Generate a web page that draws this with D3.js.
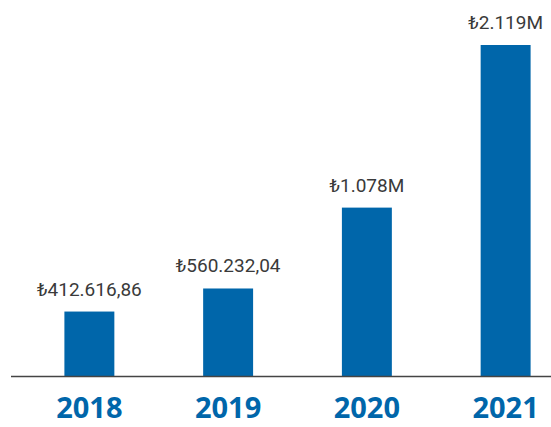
<!DOCTYPE html>
<html>
<head>
<meta charset="utf-8">
<script src="https://cdn.jsdelivr.net/npm/d3@7"></script>
<style>
  html, body { margin: 0; padding: 0; background: #ffffff; }
  svg { display: block; }
</style>
</head>
<body>
<svg id="chart" width="551" height="427"></svg>
<script>
const years = ["2018", "2019", "2020", "2021"];
const values = [412616.86, 560232.04, 1078000, 2119000];
const valueLabels = ["₺412.616,86", "₺560.232,04", "₺1.078M", "₺2.119M"];

const svg = d3.select("#chart");
const W = 551, H = 427;
const baseY = 376;

const x = d3.scaleBand()
  .domain(years)
  .range([20, 575])
  .paddingInner(0.64)
  .paddingOuter(0.32);

const y = d3.scaleLinear()
  .domain([0, d3.max(values)])
  .range([baseY, 45]);

const data = years.map((yr, i) => ({ year: yr, value: values[i], label: valueLabels[i] }));

svg.selectAll("rect.bar")
  .data(data)
  .join("rect")
  .attr("class", "bar")
  .attr("x", d => x(d.year))
  .attr("width", x.bandwidth())
  .attr("y", d => y(d.value))
  .attr("height", d => baseY - y(d.value))
  .attr("fill", "#0066aa");

svg.append("line")
  .attr("x1", 11).attr("x2", W)
  .attr("y1", baseY + 0.5).attr("y2", baseY + 0.5)
  .attr("stroke", "#444444")
  .attr("stroke-width", 1.3);

svg.selectAll("text.val")
  .data(data)
  .join("text")
  .attr("class", "val")
  .attr("x", d => x(d.year) + x.bandwidth() / 2)
  .attr("y", d => y(d.value) - 16)
  .attr("text-anchor", "middle")
  .attr("font-family", "Roboto, 'Noto Sans', sans-serif")
  .attr("font-size", 19)
  .attr("fill", "#3a3a3a")
  .text(d => d.label);

svg.selectAll("text.year")
  .data(data)
  .join("text")
  .attr("class", "year")
  .attr("x", d => x(d.year) + x.bandwidth() / 2)
  .attr("y", 418)
  .attr("text-anchor", "middle")
  .attr("font-family", "'Open Sans', 'Noto Sans', sans-serif")
  .attr("font-weight", 700)
  .attr("font-size", 29)
  .attr("fill", "#0066aa")
  .text(d => d.year);
</script>
</body>
</html>
